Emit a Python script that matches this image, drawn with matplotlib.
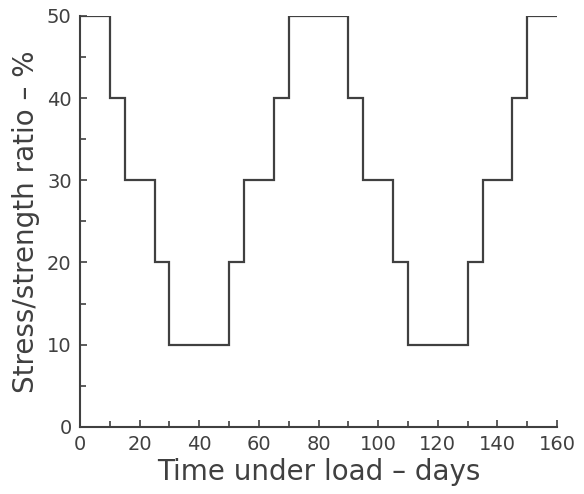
import numpy as np
import matplotlib.pyplot as plt

# step edges (days) and stress/strength level in each interval (%)
edges = [0, 10, 15, 25, 30, 50, 55, 65, 70, 90, 95, 105, 110, 130, 135, 145, 150, 160]
levels = [50, 40, 30, 20, 10, 20, 30, 40, 50, 40, 30, 20, 10, 20, 30, 40, 50]

col = '#404040'
fig = plt.figure(figsize=(5.84, 4.94), dpi=100)
ax = fig.add_axes([0.137, 0.136, 0.817, 0.832])

ax.stairs(levels, edges, color=col, lw=1.6, baseline=None)

ax.set_xlim(0, 160)
ax.set_ylim(0, 50)
ax.set_xticks(np.arange(0, 161, 20))
ax.set_xticks(np.arange(0, 161, 10), minor=True)
ax.set_yticks(np.arange(0, 51, 10))
ax.set_yticks(np.arange(0, 51, 5), minor=True)
ax.tick_params(which='both', direction='in', color=col, labelcolor=col, labelsize=14)
ax.tick_params(which='major', length=5, width=1.2, pad=6)
ax.tick_params(which='minor', length=4, width=1.2)
ax.spines['top'].set_visible(False)
ax.spines['right'].set_visible(False)
for s in ['left', 'bottom']:
    ax.spines[s].set_color(col)
    ax.spines[s].set_linewidth(1.5)

ax.set_xlabel('Time under load – days', fontsize=20, color=col, labelpad=3)
ax.set_ylabel('Stress/strength ratio – %', fontsize=20, color=col, labelpad=5)

fig.savefig('out.png', dpi=100)
